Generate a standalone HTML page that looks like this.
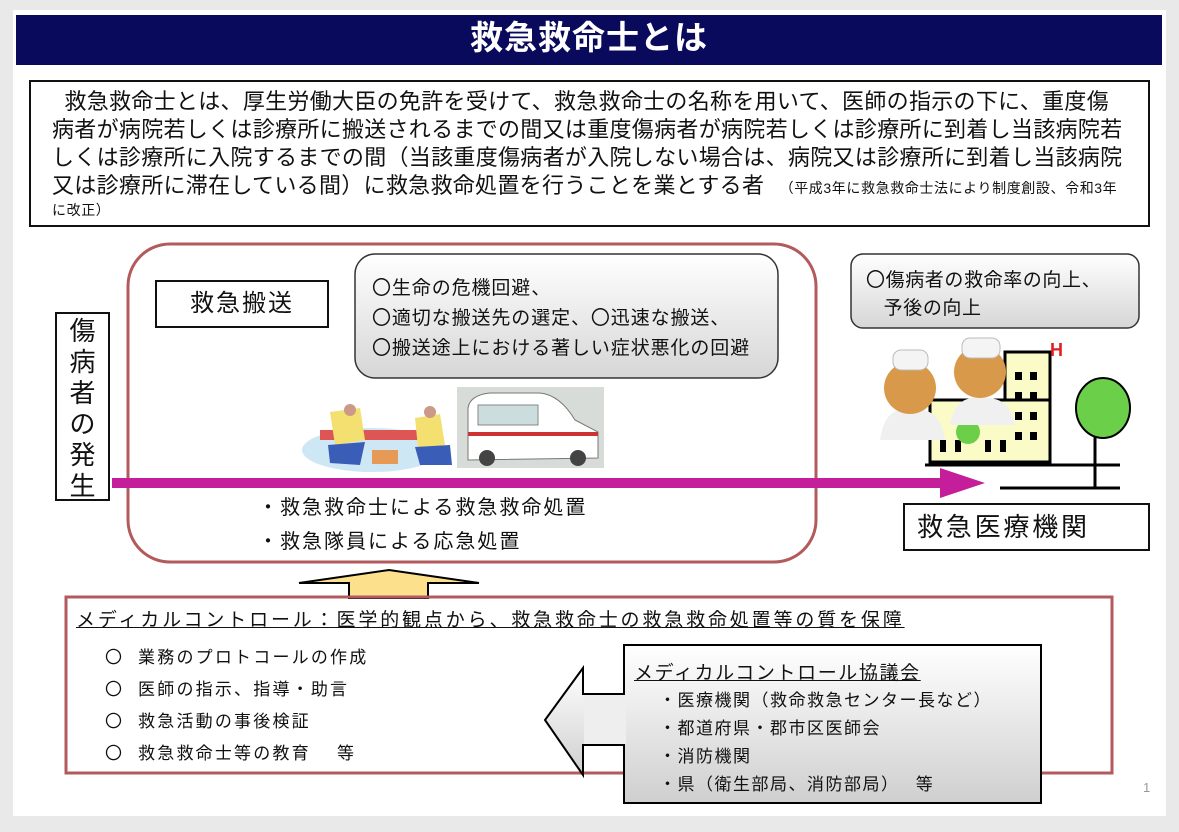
<!DOCTYPE html>
<html><head><meta charset="utf-8"><style>
body{margin:0;width:1179px;height:832px;background:#e9e9ea;position:relative;overflow:hidden;font-family:"Liberation Sans","Noto Sans CJK JP",sans-serif;color:#111}
.a{position:absolute}
.t{white-space:nowrap}
</style></head><body>
<div class="a" style="left:13px;top:10px;width:1153px;height:806px;background:#fff"></div>
<div class="a" style="left:16px;top:15px;width:1146px;height:50px;background:#0a0a5c;color:#fff;font-size:33px;font-weight:bold;text-align:center;line-height:46px;letter-spacing:1px">救急救命士とは</div>
<div class="a" style="left:29px;top:80px;width:1117px;height:143px;border:2px solid #111"></div>
<div class="a t" style="left:58px;top:88px;font-size:22px;line-height:28px;letter-spacing:0.3px">
&nbsp;救急救命士とは、厚生労働大臣の免許を受けて、救急救命士の名称を用いて、医師の指示の下に、重度傷<br>
<span style="margin-left:-6px">病者が病院若しくは診療所に搬送されるまでの間又は重度傷病者が病院若しくは診療所に到着し当該病院若</span><br>
<span style="margin-left:-6px">しくは診療所に入院するまでの間（当該重度傷病者が入院しない場合は、病院又は診療所に到着し当該病院</span><br>
<span style="margin-left:-6px">又は診療所に滞在している間）に救急救命処置を行うことを業とする者　<span style="font-size:14px;letter-spacing:0.6px">（平成3年に救急救命士法により制度創設、令和3年</span></span><br>
<span style="margin-left:-6px;font-size:14px;letter-spacing:0.6px;position:relative;top:-8px">に改正）</span></div>

<svg class="a" style="left:0;top:0" width="1179" height="832">
<defs>
<linearGradient id="g" x1="0" y1="0" x2="0" y2="1"><stop offset="0" stop-color="#fff"/><stop offset="1" stop-color="#d6d6d6"/></linearGradient>
<linearGradient id="g2" x1="0" y1="0" x2="0" y2="1"><stop offset="0" stop-color="#fff"/><stop offset="1" stop-color="#cfcfcf"/></linearGradient>
</defs>
<rect x="128" y="244" width="688" height="318" rx="42" fill="none" stroke="#b35a5e" stroke-width="3"/>
<rect x="355" y="254" width="423" height="124" rx="20" fill="url(#g)" stroke="#333" stroke-width="1.5"/>
<rect x="851" y="254" width="288" height="74" rx="12" fill="url(#g)" stroke="#333" stroke-width="1.5"/>
<rect x="457" y="387" width="147" height="81" fill="#d8dcd8"/>
<path d="M468 460 L468 408 Q470 395 490 393 L540 393 Q560 395 575 420 L598 432 L598 458 Z" fill="#fff" stroke="#777"/>
<rect x="468" y="432" width="130" height="4" fill="#c33"/>
<rect x="478" y="405" width="60" height="20" fill="#cdd" stroke="#888"/>
<circle cx="487" cy="458" r="8" fill="#444"/><circle cx="578" cy="458" r="8" fill="#444"/>
<ellipse cx="372" cy="450" rx="70" ry="22" fill="#cde8f4"/>
<rect x="320" y="430" width="110" height="10" fill="#d55" />
<path d="M330 412 L360 408 L365 440 L335 445 Z" fill="#f3e070"/>
<path d="M415 418 L440 414 L445 445 L418 448 Z" fill="#f3e070"/>
<path d="M328 445 L365 442 L360 465 L330 463Z" fill="#3a5db8"/>
<path d="M415 447 L450 445 L452 465 L420 465Z" fill="#3a5db8"/>
<circle cx="350" cy="410" r="6" fill="#c98"/><circle cx="430" cy="412" r="6" fill="#c98"/>
<rect x="372" y="450" width="26" height="14" fill="#e79a55"/>
<rect x="1005" y="352" width="45" height="110" fill="#fbfbc8" stroke="#000" stroke-width="3"/>
<rect x="930" y="400" width="120" height="62" fill="#fbfbc8" stroke="#000" stroke-width="3"/>
<text x="1050" y="356" font-size="18" font-weight="bold" fill="#e02020" font-family="Liberation Sans">H</text>
<g fill="#000"><rect x="1015" y="372" width="7" height="8"/><rect x="1030" y="372" width="7" height="8"/><rect x="1015" y="392" width="7" height="8"/><rect x="1030" y="392" width="7" height="8"/><rect x="1015" y="412" width="7" height="8"/><rect x="1030" y="412" width="7" height="8"/><rect x="1015" y="432" width="7" height="8"/><rect x="1030" y="432" width="7" height="8"/><rect x="940" y="440" width="6" height="12"/><rect x="955" y="440" width="6" height="12"/><rect x="985" y="440" width="6" height="12"/><rect x="1000" y="440" width="6" height="12"/></g>
<line x1="925" y1="465" x2="1120" y2="465" stroke="#000" stroke-width="3"/>
<line x1="1095" y1="415" x2="1095" y2="487" stroke="#000" stroke-width="3"/>
<line x1="1000" y1="488" x2="1120" y2="488" stroke="#000" stroke-width="3"/>
<ellipse cx="1103" cy="408" rx="27" ry="30" fill="#6ccf4a" stroke="#000" stroke-width="2"/>
<circle cx="968" cy="432" r="12" fill="#6ccf4a"/>
<path d="M880 440 Q885 405 910 410 Q940 405 945 440 Z" fill="#f0f0f0"/>
<circle cx="910" cy="388" r="26" fill="#d89a4a"/><rect x="893" y="350" width="35" height="20" rx="8" fill="#f4f4f4" stroke="#bbb"/>
<path d="M950 425 Q955 395 980 398 Q1010 395 1015 425 Z" fill="#f0f0f0"/>
<circle cx="980" cy="372" r="26" fill="#d89a4a"/><rect x="962" y="338" width="38" height="20" rx="8" fill="#f4f4f4" stroke="#bbb"/>
<rect x="112" y="478" width="830" height="10" fill="#c41e9a"/>
<polygon points="940,468 985,483 940,498" fill="#c41e9a"/>
<polygon points="349,598 349,583 299,583 389,570 479,583 428,583 428,598" fill="#fce08c" stroke="#000" stroke-width="2"/>
<rect x="66" y="597" width="1046" height="176" fill="none" stroke="#b35a5e" stroke-width="3"/>
<polygon points="623,694 583,694 583,668 545,720 583,775 583,745 623,745" fill="url(#g2)" stroke="#000" stroke-width="2"/>
<rect x="624" y="645" width="417" height="158" fill="url(#g2)" stroke="#000" stroke-width="2"/>
<rect x="584" y="695" width="42" height="49" fill="#eee"/>
</svg>

<div class="a" style="left:55px;top:312px;width:55px;height:189px;border:2px solid #111;background:#fff;font-size:26px;line-height:31px;text-align:center;padding-top:2px;box-sizing:border-box">傷<br>病<br>者<br>の<br>発<br>生</div>
<div class="a" style="left:155px;top:280px;width:170px;height:44px;border:2px solid #111;background:#fff;font-size:24px;text-align:center;line-height:44px;letter-spacing:2px">救急搬送</div>
<div class="a t" style="left:372px;top:274px;font-size:19px;line-height:30px;letter-spacing:0.9px">〇生命の危機回避、<br>〇適切な搬送先の選定、〇迅速な搬送、<br>〇搬送途上における著しい症状悪化の回避</div>
<div class="a t" style="left:866px;top:267px;font-size:19px;line-height:28px;letter-spacing:0.6px">〇傷病者の救命率の向上、<br>&nbsp;&nbsp;&nbsp;予後の向上</div>
<div class="a t" style="left:258px;top:491px;font-size:20px;line-height:34px;letter-spacing:2px">・救急救命士による救急救命処置<br>・救急隊員による応急処置</div>
<div class="a" style="left:903px;top:503px;height:44px;border:2px solid #111;background:#fff;font-size:26px;line-height:44px;padding-left:12px;width:231px;letter-spacing:2.8px">救急医療機関</div>
<div class="a t" style="left:76px;top:605px;font-size:19px;text-decoration:underline;letter-spacing:2.85px">メディカルコントロール：医学的観点から、救急救命士の救急救命処置等の質を保障</div>
<div class="a t" style="left:105px;top:642px;font-size:17px;line-height:32px;letter-spacing:2.2px">〇&nbsp;&nbsp;業務のプロトコールの作成<br>〇&nbsp;&nbsp;医師の指示、指導・助言<br>〇&nbsp;&nbsp;救急活動の事後検証<br>〇&nbsp;&nbsp;救急救命士等の教育　 等</div>
<div class="a t" style="left:634px;top:658px;font-size:19px;text-decoration:underline;letter-spacing:1.6px">メディカルコントロール協議会</div>
<div class="a t" style="left:659px;top:687px;font-size:17px;line-height:28px;letter-spacing:1.5px">・医療機関（救命救急センター長など）<br>・都道府県・郡市区医師会<br>・消防機関<br>・県（衛生部局、消防部局）　 等</div>
<div class="a" style="left:1143px;top:780px;font-size:13px;color:#999">1</div>
</body></html>
